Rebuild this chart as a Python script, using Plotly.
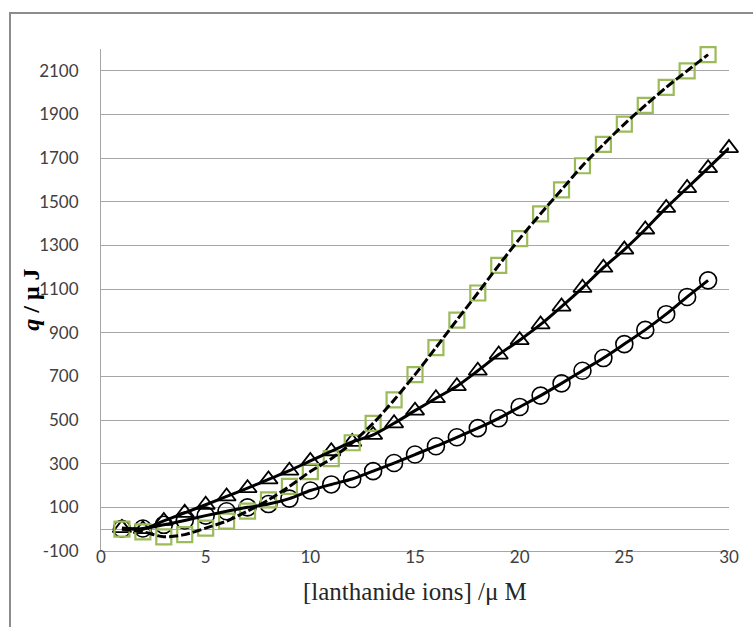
import plotly.graph_objects as go

# ---- data ----
x_sq = list(range(1, 30))
y_sq = [0, -12, -35, -25, 5, 37, 83, 134, 196, 264, 323, 396, 485, 592, 708,
        832, 958, 1082, 1209, 1331, 1445, 1555, 1665, 1763, 1856, 1942, 2024,
        2100, 2174]

x_tri = list(range(1, 31))
y_tri = [5, 0, 38, 75, 112, 150, 188, 228, 268, 313, 357, 400, 432, 485, 543,
         600, 655, 726, 800, 866, 938, 1020, 1106, 1198, 1281, 1373, 1472,
         1563, 1654, 1746]

x_cir = list(range(1, 30))
y_cir = [2, 3, 20, 40, 62, 82, 100, 115, 140, 177, 205, 230, 266, 303, 342,
         380, 421, 463, 508, 560, 612, 668, 726, 784, 848, 913, 985, 1064, 1140]

x_ticks = [0, 5, 10, 15, 20, 25, 30]
y_ticks = [-100, 100, 300, 500, 700, 900, 1100, 1300, 1500, 1700, 1900, 2100]

fig = go.Figure()

# markers
fig.add_trace(go.Scatter(x=x_cir, y=y_cir, mode="markers", cliponaxis=False,
                         marker=dict(symbol="circle-open", size=17, color="black",
                                     line=dict(width=1.6, color="black"))))
fig.add_trace(go.Scatter(x=x_tri, y=y_tri, mode="markers", cliponaxis=False,
                         marker=dict(symbol="triangle-up-open", size=16, color="black",
                                     line=dict(width=1.8, color="black"))))
fig.add_trace(go.Scatter(x=x_sq, y=y_sq, mode="markers", cliponaxis=False,
                         marker=dict(symbol="square-open", size=15, color="#9BBB59",
                                     line=dict(width=2.2, color="#9BBB59"))))
# fitted lines on top
fig.add_trace(go.Scatter(x=x_cir, y=y_cir, mode="lines", cliponaxis=False,
                         line=dict(color="black", width=3, shape="spline", smoothing=0.8)))
fig.add_trace(go.Scatter(x=x_tri, y=y_tri, mode="lines", cliponaxis=False,
                         line=dict(color="black", width=3, shape="spline", smoothing=0.8)))
fig.add_trace(go.Scatter(x=x_sq, y=y_sq, mode="lines", cliponaxis=False,
                         line=dict(color="black", width=3, dash="9px,3px",
                                   shape="spline", smoothing=0.8)))

grid = "#A6A6A6"
tickfont = dict(family="Lato", size=17, color="#404040")

fig.update_layout(
    width=753, height=627,
    margin=dict(l=101, r=24, t=49, b=76),
    paper_bgcolor="white", plot_bgcolor="white",
    showlegend=False,
    xaxis=dict(range=[0, 30], tickvals=x_ticks, ticktext=[str(v) for v in x_ticks],
               showgrid=False, zeroline=False, showline=True, linecolor=grid,
               linewidth=1, ticks="", tickfont=tickfont, ticklabelstandoff=-9),
    yaxis=dict(range=[-100, 2200], tickvals=y_ticks, ticktext=[str(v) for v in y_ticks],
               showgrid=True, gridcolor=grid, gridwidth=1,
               zeroline=True, zerolinecolor=grid, zerolinewidth=1,
               showline=True, linecolor=grid, linewidth=1,
               ticks="outside", ticklen=18, tickcolor="rgba(0,0,0,0)",
               tickfont=tickfont),
    annotations=[
        dict(text="[lanthanide ions] /\u03bc M", x=0.5, y=-0.08, xref="paper", yref="paper",
             xanchor="center", yanchor="middle", showarrow=False,
             font=dict(family="Liberation Serif", size=25, color="#262626")),
        dict(text="<b><i>q</i> / \u03bc J</b>", x=-0.112, y=0.5, xref="paper", yref="paper",
             xanchor="center", yanchor="middle", showarrow=False, textangle=-90,
             font=dict(family="Liberation Serif", size=24, color="black")),
    ],
    shapes=[dict(type="rect", xref="paper", yref="paper",
                 x0=-0.1449, x1=1.3, y0=-0.3, y1=1.0717,
                 line=dict(color="#8C8C8C", width=2), fillcolor="rgba(0,0,0,0)",
                 layer="below")],
)

fig.write_html("out.html", config={"displayModeBar": False},
               post_script="document.body.style.margin='0';document.body.style.overflow='hidden';")
